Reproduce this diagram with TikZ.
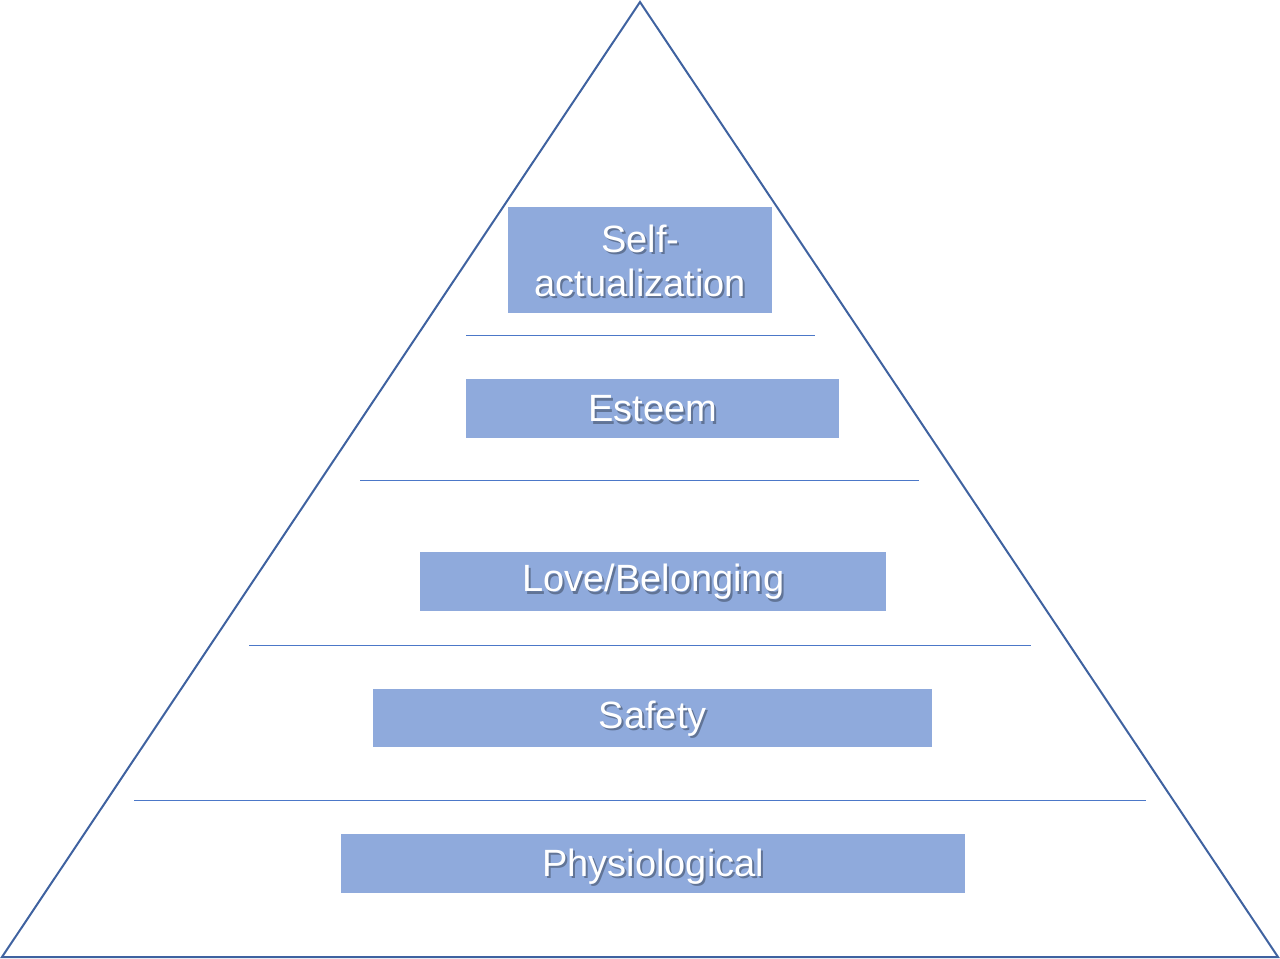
\documentclass[tikz,border=0pt]{standalone}
\usepackage{fontspec}
\setmainfont{Liberation Sans}
\definecolor{tri}{HTML}{3F62A0}
\definecolor{sep}{HTML}{4C78C8}
\definecolor{boxfill}{HTML}{8FAADC}
\colorlet{shadowcol}{black!32!boxfill}
\newcommand{\shadowedtxt}[1]{\rlap{\kern1.5pt\raisebox{-1.7pt}{\textcolor{shadowcol}{#1}}}#1}
\begin{document}
\begin{tikzpicture}[x=0.75pt,y=-0.75pt,
  levelbox/.style={rectangle,fill=boxfill,inner sep=0pt,anchor=north west},
  lbl/.style={text=white,font=\fontsize{28.5}{33}\selectfont,align=center,inner sep=0pt},
  sepline/.style={draw=sep,line width=0.75pt},
  trianglestyle/.style={draw=tri,line width=1.5pt,line join=miter}]
\useasboundingbox (0,0) rectangle (1280,959);
% triangle
\coordinate (apex) at (640,2);
\coordinate (bl) at (2,957);
\coordinate (br) at (1278,957);
\draw[trianglestyle] (apex) -- (bl) -- (br) -- cycle;
% separators
\coordinate (s1a) at (466,335); \coordinate (s1b) at (815,335);
\coordinate (s2a) at (360,480); \coordinate (s2b) at (919,480);
\coordinate (s3a) at (249,645); \coordinate (s3b) at (1031,645);
\coordinate (s4a) at (134,800); \coordinate (s4b) at (1146,800);
\draw[sepline] (s1a) -- (s1b);
\draw[sepline] (s2a) -- (s2b);
\draw[sepline] (s3a) -- (s3b);
\draw[sepline] (s4a) -- (s4b);
% boxes
\node[levelbox,minimum width=264*0.75pt,minimum height=106*0.75pt] (b1) at (508,207) {};
\node[levelbox,minimum width=373*0.75pt,minimum height=59*0.75pt] (b2) at (466,379) {};
\node[levelbox,minimum width=466*0.75pt,minimum height=59*0.75pt] (b3) at (420,552) {};
\node[levelbox,minimum width=559*0.75pt,minimum height=58*0.75pt] (b4) at (373,689) {};
\node[levelbox,minimum width=624*0.75pt,minimum height=59*0.75pt] (b5) at (341,834) {};
% labels
\node[lbl] (t1) at ([yshift=-1pt]b1.center) {\shadowedtxt{Self-}\\\shadowedtxt{actualization}};
\node[lbl] (t2) at ([yshift=-1pt]b2.center) {\shadowedtxt{Esteem}};
\node[lbl] (t3) at ([yshift=-1pt]b3.center) {\shadowedtxt{Love/Belonging}};
\node[lbl] (t4) at ([yshift=-1pt]b4.center) {\shadowedtxt{Safety}};
\node[lbl] (t5) at ([yshift=-3pt]b5.center) {\shadowedtxt{Physiological}};
\end{tikzpicture}
\end{document}
